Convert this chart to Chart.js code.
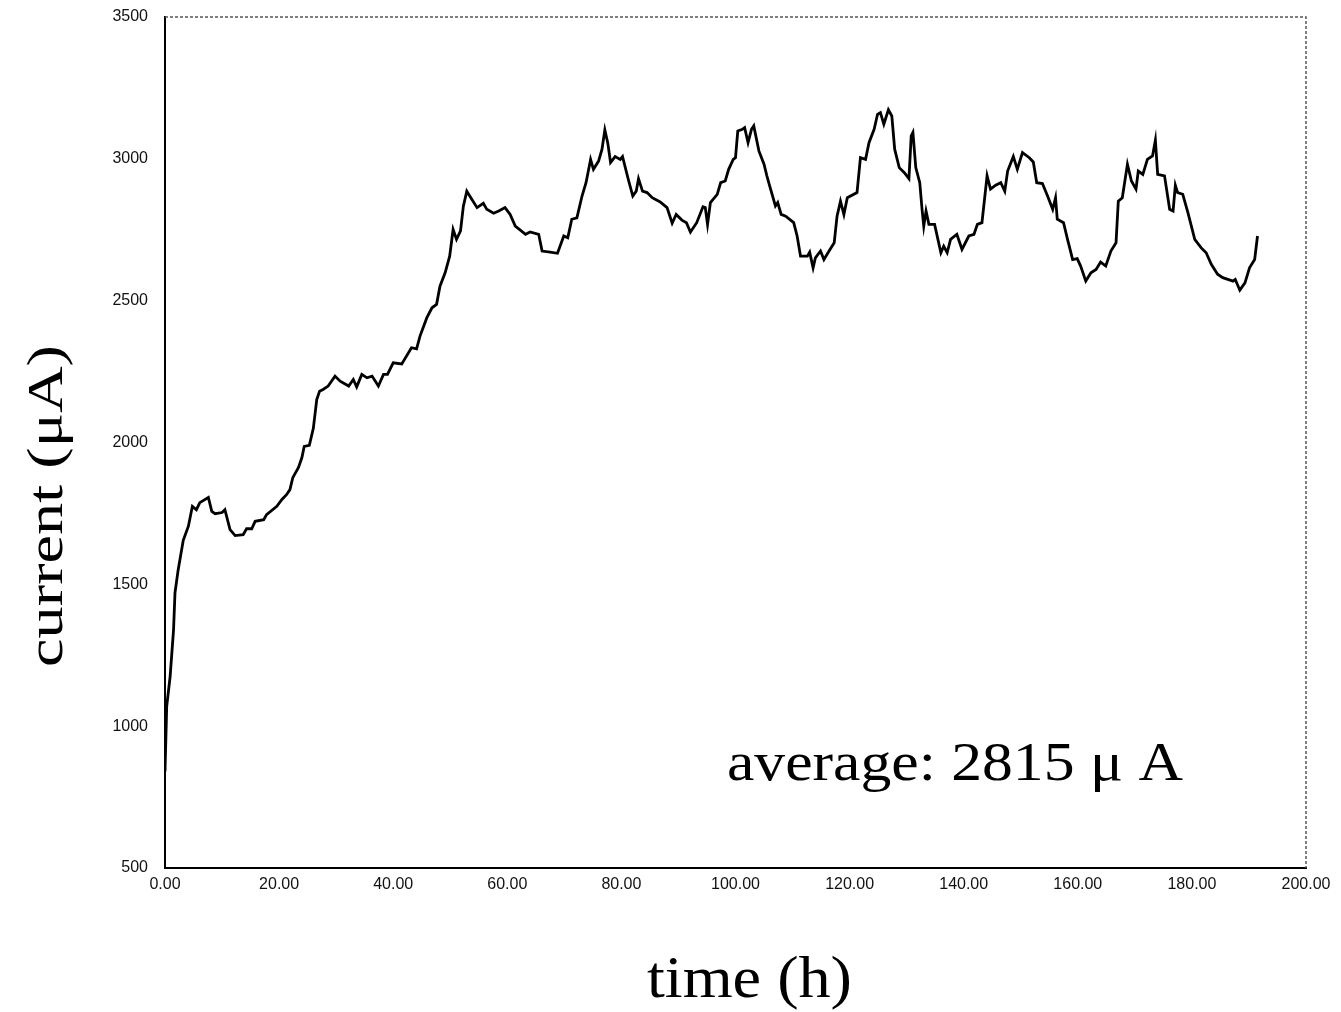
<!DOCTYPE html>
<html>
<head>
<meta charset="utf-8">
<script src="https://cdn.jsdelivr.net/npm/chart.js@4/dist/chart.umd.min.js"></script>
<style>
  body { margin: 0; background: #fff; }
  #wrap { width: 1341px; height: 1012px; }
</style>
</head>
<body>
<div id="wrap"><canvas id="myChart" width="1341" height="1012"></canvas></div>
<script>
// time (h) and current (uA)
const hours = [
  0, 0.3, 0.9, 1.5, 1.75, 2.3, 3.2, 4.1, 4.8, 5.5, 6.1, 7.6, 8.2, 8.8, 10, 10.5,
  11.4, 12.3, 13.7, 14.3, 15.2, 15.8, 17.3, 17.8, 19.6, 20.5, 21.3, 21.9, 22.4,
  23.4, 24, 24.4, 25.3, 26, 26.6, 27.1, 27.7, 28.6, 29.8, 30.7, 32.2, 33, 33.6,
  34.5, 35.4, 36.3, 37.4, 38.3, 39, 40, 41.5, 43.2, 44.1, 44.7, 45.9, 46.8, 47.6,
  48.2, 49.1, 49.9, 50.5, 51.1, 51.8, 52.3, 52.9, 53.8, 54.7, 55.8, 56.4, 57.6,
  58.5, 59.6, 60.5, 61.4, 63.2, 64, 65.5, 66.1, 67.5, 68.8, 69.9, 70.6, 71.3,
  72.2, 73.1, 73.8, 74.6, 75.1, 76, 76.6, 77.1, 77.6, 78.1, 78.9, 79.8, 80.2,
  81.2, 82, 82.6, 83, 83.7, 84.5, 85.4, 86.8, 88, 88.9, 89.6, 90.6, 91.4, 92.1,
  93.2, 94.3, 94.7, 95.1, 95.6, 96.8, 97.4, 98.2, 98.8, 99.6, 100, 100.4, 101.2,
  101.6, 102.2, 102.8, 103.2, 104.1, 105, 105.5, 106, 107, 107.4, 108, 108.8,
  110.2, 110.8, 111.4, 112.6, 113, 113.6, 114, 114.9, 115.5, 116.4, 117.3, 117.8,
  118.4, 119, 119.6, 121.3, 121.9, 122.8, 123.4, 124.3, 124.9, 125.4, 126, 126.8,
  127.4, 127.9, 128.7, 129.6, 130.4, 130.8, 131.1, 131.6, 132.3, 132.7, 133,
  133.4, 133.9, 134.9, 136, 136.5, 137.1, 137.7, 138.8, 139.7, 140.9, 141.8,
  142.4, 143.2, 144.1, 144.7, 145.6, 146.5, 147.2, 147.7, 148.7, 149.4, 150.3,
  151.5, 152.2, 152.8, 153.8, 154.7, 155.6, 156.1, 156.4, 157.5, 158.2, 159.1,
  159.9, 160.5, 161.4, 162.3, 163.2, 164, 164.9, 165.8, 166.7, 167.1, 167.8,
  168.7, 169.4, 170.2, 170.6, 171.4, 172.2, 173.1, 173.6, 174, 175.2, 176.1,
  176.7, 177.1, 177.5, 178.4, 179.3, 180.5, 181.6, 182.5, 183.4, 184.5, 185.4,
  186.3, 187.2, 187.6, 188.4, 189.3, 190.1, 191, 191.5
];
const current = [
  840, 1070, 1175, 1340, 1470, 1550, 1655, 1705, 1775, 1763, 1788, 1806, 1757, 1749, 1753, 1763,
  1693, 1672, 1675, 1696, 1696, 1722, 1728, 1746, 1775, 1799, 1816, 1834, 1876,
  1912, 1947, 1986, 1990, 2050, 2151, 2181, 2187, 2199, 2234, 2216, 2199, 2222, 2196,
  2240, 2228, 2234, 2199, 2240, 2240, 2281, 2277, 2334, 2330, 2375, 2440, 2475, 2487,
  2551, 2598, 2657, 2751, 2716, 2746, 2833, 2886, 2857, 2828, 2843, 2822, 2808,
  2816, 2828, 2804, 2763, 2734, 2742, 2734, 2675, 2671, 2667, 2728, 2722, 2787,
  2792, 2869, 2916, 2998, 2963, 2992, 3034, 3102, 3057, 2987, 3008, 2998, 3008,
  2928, 2869, 2886, 2930, 2886, 2881, 2863, 2848, 2828, 2773, 2804, 2784, 2775, 2742,
  2775, 2831, 2828, 2769, 2846, 2875, 2916, 2922, 2963, 2998, 3004, 3098, 3104,
  3110, 3057, 3104, 3116, 3028, 2981, 2940, 2904, 2834, 2846, 2804, 2798,
  2775, 2728, 2657, 2657, 2671, 2616, 2651, 2675, 2645, 2675, 2704, 2798,
  2851, 2804, 2863, 2881, 3004, 2998, 3057, 3104, 3157, 3163, 3122, 3173,
  3151, 3034, 2969, 2951, 2930, 3081, 3093, 2969, 2916, 2822, 2763,
  2816, 2769, 2769, 2669, 2692, 2669, 2716, 2734, 2681, 2728, 2734,
  2769, 2775, 2940, 2893, 2907, 2916, 2886, 2957, 3008, 2963, 3022,
  3004, 2989, 2916, 2913, 2869, 2822, 2863, 2787, 2775, 2716, 2645,
  2648, 2622, 2569, 2598, 2610, 2636, 2622, 2675, 2704, 2851, 2863,
  2981, 2922, 2893, 2957, 2945, 2998, 3010, 3066, 2945, 2940, 2822,
  2816, 2907, 2881, 2875, 2810, 2716, 2687, 2669, 2628, 2593, 2581,
  2575, 2569, 2575, 2537, 2563, 2616, 2645, 2728
];
const xTicks = [0, 20, 40, 60, 80, 100, 120, 140, 160, 180, 200];
const yTicks = [500, 1000, 1500, 2000, 2500, 3000, 3500];
const averageText = "average: 2815 \u03bc A";

const serif = "'Liberation Serif', 'Times New Roman', serif";
const sans = "'Liberation Sans', Arial, sans-serif";

// draw text squeezed/stretched to a given width (the scan is a bit distorted)
const fitText = (ctx, text, x, y, width) => {
  const w = ctx.measureText(text).width;
  ctx.save();
  ctx.translate(x, y);
  ctx.scale(width / w, 1);
  ctx.fillText(text, 0, 0);
  ctx.restore();
};

const textPlugin = {
  id: "texts",
  afterDraw(chart) {
    const { ctx, chartArea: a, scales } = chart;
    ctx.save();
    // dotted top and right frame of the plot
    ctx.strokeStyle = "#555";
    ctx.lineWidth = 1.5;
    ctx.setLineDash([3, 2]);
    ctx.beginPath();
    ctx.moveTo(a.left, a.top);
    ctx.lineTo(a.right, a.top);
    ctx.lineTo(a.right, a.bottom);
    ctx.stroke();
    ctx.setLineDash([]);

    ctx.fillStyle = "#000";
    ctx.textAlign = "left";
    ctx.textBaseline = "alphabetic";

    ctx.font = "60px " + serif;
    fitText(ctx, "time (h)", 647, 997, 205);

    ctx.font = "50px " + serif;
    ctx.save();
    ctx.translate(62, 667);
    ctx.rotate(-Math.PI / 2);
    fitText(ctx, "current (\u03bcA)", 0, 0, 322);
    ctx.restore();

    ctx.font = "54px " + serif;
    fitText(ctx, averageText, scales.x.getPixelForValue(98.5), scales.y.getPixelForValue(810), 456);
    ctx.restore();
  },
};

new Chart(document.getElementById("myChart"), {
  type: "line",
  data: {
    datasets: [
      {
        label: "current",
        data: hours.map((h, i) => ({ x: h, y: current[i] })),
        borderColor: "#000",
        borderWidth: 2.8,
        pointRadius: 0,
        tension: 0,
        fill: false,
      },
    ],
  },
  options: {
    responsive: false,
    animation: false,
    layout: { padding: { left: 0, top: 17, right: 35, bottom: 114 } },
    plugins: { legend: { display: false }, tooltip: { enabled: false } },
    scales: {
      x: {
        type: "linear",
        min: 0,
        max: 200,
        afterBuildTicks: (s) => { s.ticks = xTicks.map((v) => ({ value: v })); },
        afterFit: (s) => { s.height = 30; },
        grid: { display: false, drawTicks: false },
        border: { display: true, color: "#000", width: 2 },
        ticks: {
          padding: 7,
          color: "#111",
          font: { family: sans, size: 16 },
          maxRotation: 0,
          autoSkip: false,
          callback: (v) => v.toFixed(2),
        },
      },
      y: {
        type: "linear",
        min: 500,
        max: 3500,
        afterBuildTicks: (s) => { s.ticks = yTicks.map((v) => ({ value: v })); },
        afterFit: (s) => {
          s.width = 165;
          s.paddingTop = 0;
          s.paddingBottom = 0;
        },
        grid: { display: false, drawTicks: false },
        border: { display: true, color: "#000", width: 2 },
        ticks: {
          padding: 17,
          color: "#111",
          font: { family: sans, size: 16 },
          autoSkip: false,
          callback: (v) => String(v),
        },
      },
    },
  },
  plugins: [textPlugin],
});
</script>
</body>
</html>
